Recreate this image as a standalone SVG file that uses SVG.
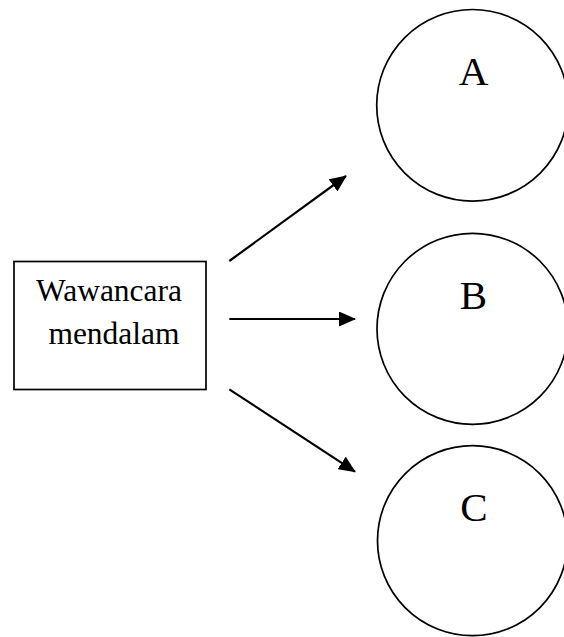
<svg xmlns="http://www.w3.org/2000/svg" width="564" height="637" viewBox="0 0 564 637">
<style>
.shape{fill:#fff;stroke:#000;stroke-width:1.7}
.t{font-family:"Liberation Serif","Times New Roman",serif;fill:#000;text-anchor:middle}
.box{font-size:31.5px}
.lbl{font-size:41px}
.conn{stroke:#000;stroke-width:2.2;fill:none}
</style>
<defs>
<marker id="ah" markerUnits="userSpaceOnUse" markerWidth="17" markerHeight="15" refX="16" refY="7.5" orient="auto" viewBox="0 0 17 15">
<path d="M0,0 L17,7.5 L0,15 z" fill="#000"/>
</marker>
</defs>
<rect width="564" height="637" fill="#fff"/>
<g id="node-wawancara">
<rect class="shape" x="14" y="261.5" width="192" height="128"/>
<text class="t box" x="109" y="300.5">Wawancara</text>
<text class="t box" x="114" y="343.5">mendalam</text>
</g>
<g id="node-a">
<circle class="shape" cx="472.5" cy="105.3" r="95.8"/>
<text class="t lbl" x="473.5" y="85">A</text>
</g>
<g id="node-b">
<circle class="shape" cx="472.5" cy="328.8" r="95.5"/>
<text class="t lbl" x="473.5" y="309">B</text>
</g>
<g id="node-c">
<circle class="shape" cx="472.5" cy="540.7" r="95"/>
<text class="t lbl" x="474" y="521">C</text>
</g>
<g id="connectors">
<line class="conn" x1="229.3" y1="261" x2="346" y2="176" marker-end="url(#ah)"/>
<line class="conn" x1="229.3" y1="319" x2="355" y2="319" marker-end="url(#ah)"/>
<line class="conn" x1="229.3" y1="389.3" x2="355" y2="471.7" marker-end="url(#ah)"/>
</g>
</svg>
